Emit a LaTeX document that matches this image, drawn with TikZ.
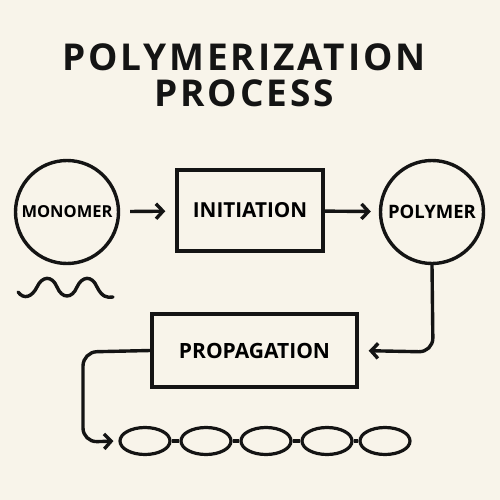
\documentclass[tikz,border=0pt]{standalone}
\usepackage{fontspec}
\setmainfont{Open Sans}
\usetikzlibrary{arrows.meta, shapes.geometric, positioning}

\definecolor{paper}{HTML}{F8F4EA}
\definecolor{ink}{HTML}{141414}

\begin{document}
\begin{tikzpicture}[x=1pt, y=-1pt,
    >={Straight Barb[length=7pt, width=15pt]},
    wire/.style={draw=ink, line width=3.4pt},
    stage/.style={draw=ink, line width=3.4pt, rectangle, inner sep=0pt, font=\bfseries},
    species/.style={draw=ink, line width=3.4pt, circle, inner sep=0pt, minimum size=103pt, font=\bfseries},
    link/.style={draw=ink, ellipse, line width=3.2pt, minimum width=50pt, minimum height=27pt}]

  \fill[paper] (0, 0) rectangle (500, 500);
  \useasboundingbox (0, 0) rectangle (500, 500);

  % title
  \node[text=ink, font=\fontsize{37}{36}\selectfont\bfseries\addfontfeatures{LetterSpace=8}, align=center]
    (title) at (244, 75) {POLYMERIZATION\\PROCESS};

  % species and stages
  \node[species] (monomer) at (67, 212) {\fontsize{16.5}{16.5}\selectfont MONOMER};
  \node[species] (polymer) at (432, 212) {\fontsize{18.5}{18.5}\selectfont POLYMER};
  \node[stage, minimum width=146pt, minimum height=81pt] (initiation) at (250, 210.5)
    {\fontsize{20.7}{20.7}\selectfont INITIATION};
  \node[stage, minimum width=205pt, minimum height=73pt] (propagation) at (254.5, 350.5)
    {\fontsize{21}{21}\selectfont PROPAGATION};

  % monomer wave
  \draw[wire, line cap=round] (18, 292) .. controls (24, 300) and (32, 297) .. (37, 287)
    .. controls (42, 276) and (52, 275) .. (57, 287)
    .. controls (62, 299) and (72, 299) .. (77, 287)
    .. controls (82, 276) and (92, 275) .. (97, 287)
    .. controls (102, 297) and (107, 298) .. (113, 297);

  % polymer chain
  \foreach \x [count=\n] in {145, 206, 266, 327, 385} {
    \node[link] (link\n) at (\x, 441) {};
  }
  \foreach \a/\b in {1/2, 2/3, 3/4, 4/5} {
    \draw[wire] (link\a.east) -- (link\b.west);
  }

  % flow
  \coordinate (turnA) at (433, 352);
  \coordinate (turnB) at (83, 352);
  \coordinate (turnC) at (83, 442);
  \draw[wire, ->, shorten <=10pt, shorten >=10pt] (monomer) -- (initiation);
  \draw[wire, ->, shorten >=8pt] (initiation) -- (polymer);
  \draw[wire, ->, rounded corners=14pt, shorten >=10pt] (polymer.south) -- (turnA) -- (propagation.east);
  \draw[wire, ->, rounded corners=14pt, shorten >=5pt] (propagation.west) -- (turnB) -- (turnC) -- (link1.west);

\end{tikzpicture}
\end{document}
